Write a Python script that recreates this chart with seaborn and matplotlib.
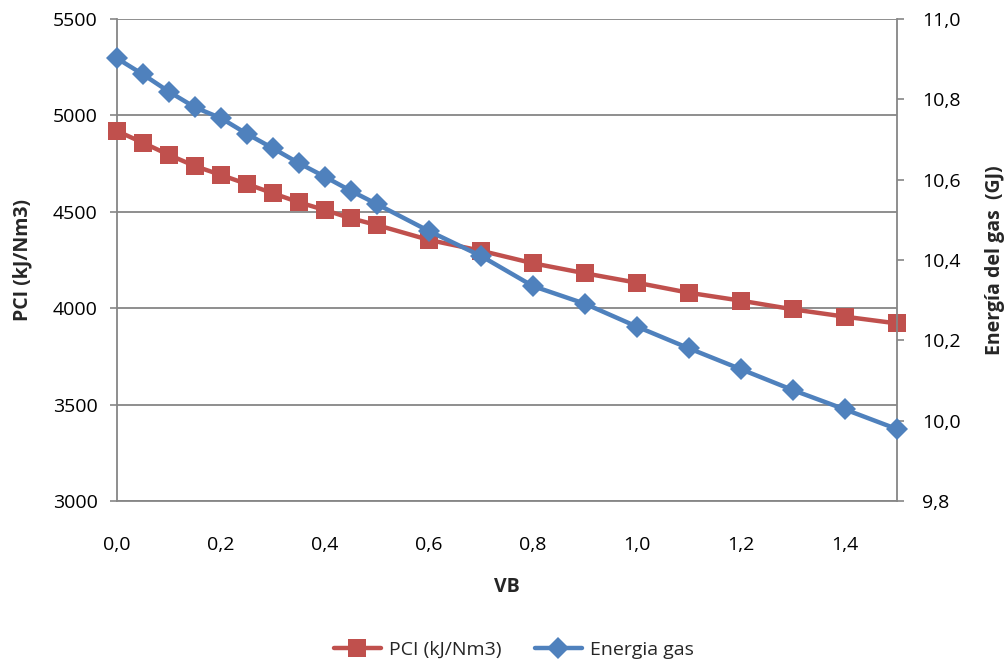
import matplotlib
matplotlib.use("Agg")
import matplotlib.pyplot as plt
import matplotlib.ticker as mticker
import seaborn as sns
import pandas as pd

vb = [0.0, 0.05, 0.1, 0.15, 0.2, 0.25, 0.3, 0.35, 0.4, 0.45, 0.5,
      0.6, 0.7, 0.8, 0.9, 1.0, 1.1, 1.2, 1.3, 1.4, 1.5]
pci = [4919, 4858, 4795, 4737, 4691, 4644, 4596, 4549, 4509, 4466, 4431,
       4354, 4298, 4233, 4181, 4132, 4080, 4039, 3994, 3956, 3921]
energia = [10.902, 10.862, 10.819, 10.780, 10.753, 10.714, 10.678, 10.641, 10.607, 10.572, 10.539,
           10.472, 10.410, 10.335, 10.291, 10.234, 10.180, 10.128, 10.076, 10.028, 9.979]

label_pci = "PCI (kJ/Nm3)"
label_en = "Energia gas"
xlabel = "VB"
ylabel_left = "PCI (kJ/Nm3)"
ylabel_right = "Energía del gas  (GJ)"

df = pd.DataFrame({"VB": vb, "PCI": pci, "Energia": energia})

sns.set_theme(style="white")
plt.rcParams["font.family"] = ["Open Sans", "DejaVu Sans"]

RED = "#C0504D"
BLUE = "#4F81BD"
GREY = "#868686"
FS = 14

fig = plt.figure(figsize=(10.06, 6.61), dpi=100)
ax = fig.add_axes([117/1006, 1 - 501/661, (897-117)/1006, (501-19)/661])
ax2 = ax.twinx()

sns.lineplot(data=df, x="VB", y="PCI", ax=ax, color=RED, lw=3.2, marker="s",
             markersize=12.5, markeredgewidth=0, label=label_pci, legend=False,
             zorder=3, clip_on=False)
sns.lineplot(data=df, x="VB", y="Energia", ax=ax2, color=BLUE, lw=3.2, marker="D",
             markersize=11, markeredgewidth=0, label=label_en, legend=False,
             zorder=3, clip_on=False)

ax.set_xlim(0, 1.5)
ax.set_ylim(3000, 5500)
ax2.set_ylim(9.8, 11.0)
ax.set_xticks([0, 0.2, 0.4, 0.6, 0.8, 1.0, 1.2, 1.4])
ax.set_yticks(range(3000, 5501, 500))
ax2.set_yticks([9.8, 10.0, 10.2, 10.4, 10.6, 10.8, 11.0])

comma1 = mticker.FuncFormatter(lambda v, p: f"{v:.1f}".replace(".", ","))
ax.xaxis.set_major_formatter(comma1)
ax2.yaxis.set_major_formatter(comma1)

ax.yaxis.grid(True, color=GREY, lw=1.3)
ax.xaxis.grid(False)
ax2.grid(False)
ax.set_axisbelow(True)

for a in (ax, ax2):
    a.spines["top"].set_visible(False)
    for s in ("left", "right", "bottom"):
        a.spines[s].set_color(GREY)
        a.spines[s].set_linewidth(1.3)
    a.tick_params(axis="both", which="major", direction="out", length=5, width=1.2,
                  color=GREY, labelsize=FS, labelcolor="black")
ax2.spines["left"].set_visible(False)
ax2.spines["bottom"].set_visible(False)
ax.spines["right"].set_visible(False)
ax.tick_params(axis="x", pad=20)
ax.tick_params(axis="y", left=True, pad=9)
ax2.tick_params(axis="y", right=True, pad=13)

ax.set_xlabel(xlabel, fontsize=FS, fontweight="bold")
ax.set_ylabel(ylabel_left, fontsize=FS, fontweight="bold")
ax2.set_ylabel(ylabel_right, fontsize=FS, fontweight="bold")
ax.xaxis.set_label_coords(0.5, (501 - 587) / 482)
ax.xaxis.label.set_verticalalignment("center")
ax.yaxis.set_label_coords((22 - 117) / 780, 0.5)
ax.yaxis.label.set_verticalalignment("center")
ax2.yaxis.set_label_coords((995 - 117) / 780, 0.5)
ax2.yaxis.label.set_verticalalignment("center")

h1, l1 = ax.get_legend_handles_labels()
h2, l2 = ax2.get_legend_handles_labels()
fig.legend(h1 + h2, l1 + l2, loc="center", bbox_to_anchor=(514 / 1006, 11 / 661), ncol=2,
           frameon=False, fontsize=FS, handlelength=2.4, handletextpad=0.45,
           columnspacing=1.7)

fig.savefig("out.png", dpi=100, facecolor="white")
